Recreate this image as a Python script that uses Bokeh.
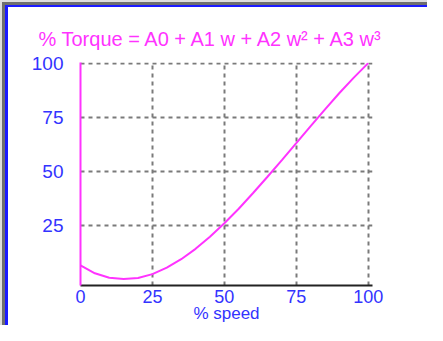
from bokeh.plotting import figure
from bokeh.models import Range1d, FixedTicker
from bokeh.embed import file_html
from bokeh.resources import INLINE

# Data
speed = [0, 5, 10, 15, 20, 25, 30, 35, 40, 45, 50, 55, 60, 65, 70, 75, 80, 85, 90, 95, 100]
torque = [6.5, 2.9, 0.8, 0.2, 0.7, 2.5, 5.5, 9.4, 14.2, 19.8, 26.0, 32.7, 40.0, 47.5,
          55.2, 63.0, 70.9, 78.6, 86.2, 93.3, 100.0]
x_ticks = [0, 25, 50, 75, 100]
y_ticks = [25, 50, 75, 100]
grid_ticks = [25, 50, 75, 100]

MAGENTA = "#ff33ff"
BLUE = "#3333ff"
FONT = "Liberation Sans"

p = figure(width=427, height=325, x_range=Range1d(0, 101.5), y_range=Range1d(-2.75, 100.3),
           output_backend="svg", toolbar_location=None,
           min_border_left=80, min_border_right=55, min_border_top=62, min_border_bottom=39,
           title="% Torque = A0 + A1 w + A2 w² + A3 w³")
p.styles = {"box-shadow": "inset 2px 2px 0 0 #dedede, inset 5px 5px 0 0 #6e6e6e, "
                          "inset 8px 7px 0 0 #1a1aff"}
p.background_fill_color = "white"
p.border_fill_color = None
p.outline_line_color = None

p.title.text_color = MAGENTA
p.title.text_font = FONT
p.title.text_font_size = "20px"
p.title.text_font_style = "normal"
p.title.align = "left"
p.title.offset = -42
p.title.standoff = 26

# axes
p.xaxis.ticker = FixedTicker(ticks=x_ticks)
p.yaxis.ticker = FixedTicker(ticks=y_ticks)
for ax in (p.xaxis[0], p.yaxis[0]):
    ax.major_tick_line_color = None
    ax.minor_tick_line_color = None
    ax.major_tick_out = 0
    ax.major_tick_in = 0
    ax.minor_tick_out = 0
    ax.minor_tick_in = 0
    ax.major_label_text_color = BLUE
    ax.major_label_text_font = FONT
    ax.axis_line_width = 2
p.yaxis.major_label_text_font_size = "19px"
p.xaxis.major_label_text_font_size = "18px"
p.xaxis.axis_line_color = "#222222"
p.yaxis.axis_line_color = MAGENTA
p.xaxis.major_label_standoff = 4
p.yaxis.major_label_standoff = 17
p.xaxis.axis_label = "% speed"
p.xaxis.axis_label_text_color = BLUE
p.xaxis.axis_label_text_font = FONT
p.xaxis.axis_label_text_font_size = "17px"
p.xaxis.axis_label_text_font_style = "normal"
p.xaxis.axis_label_standoff = -2

# grid
for g in (p.xgrid[0], p.ygrid[0]):
    g.ticker = FixedTicker(ticks=grid_ticks)
    g.grid_line_color = "#7a7a7a"
    g.grid_line_width = 2
    g.grid_line_dash = "4 4"

p.line(speed, torque, line_color=MAGENTA, line_width=2)

open("out.html", "w").write(file_html(p, INLINE))
